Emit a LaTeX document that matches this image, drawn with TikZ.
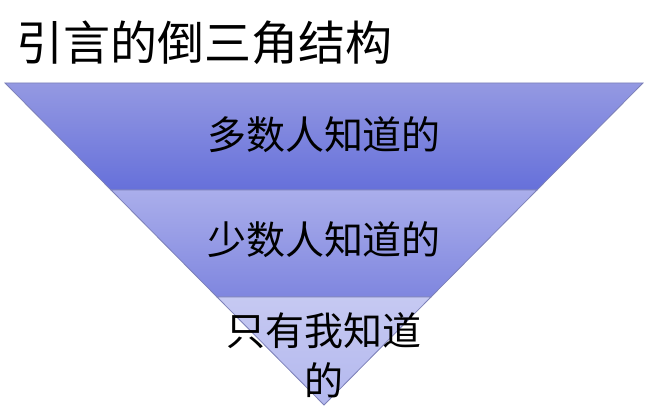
\documentclass[tikz,border=0pt]{standalone}
\usepackage{fontspec}
\newfontfamily\cjk{Noto Sans CJK SC}
\definecolor{bandAtop}{HTML}{9499E2}
\definecolor{bandAbot}{HTML}{6670DA}
\definecolor{bandBtop}{HTML}{AAAEEB}
\definecolor{bandBbot}{HTML}{7F86DF}
\definecolor{bandCtop}{HTML}{C6C9F2}
\definecolor{bandCbot}{HTML}{B3B8EE}
\definecolor{edgecol}{HTML}{7C80B8}
\tikzset{
  band/.style={draw=edgecol, line width=0.8pt},
  bandtext/.style={font=\cjk\fontsize{39}{50}\selectfont, text=black, inner sep=0pt, align=center},
  titletext/.style={font=\cjk\fontsize{47}{50}\selectfont, text=black, inner sep=0pt, anchor=west}
}
\begin{document}
\begin{tikzpicture}[x=1pt,y=-1pt]
\useasboundingbox (0,0) rectangle (657,411);
\fill[white] (0,0) rectangle (657,411);
\coordinate (A) at (5,83);
\coordinate (B) at (643,83);
\coordinate (C) at (111,190);
\coordinate (D) at (537,190);
\coordinate (E) at (217,297);
\coordinate (F) at (431,297);
\coordinate (G) at (324,405);
\shadedraw[band, top color=bandAtop, bottom color=bandAbot] (A) -- (B) -- (D) -- (C) -- cycle;
\shadedraw[band, top color=bandBtop, bottom color=bandBbot] (C) -- (D) -- (F) -- (E) -- cycle;
\shadedraw[band, top color=bandCtop, bottom color=bandCbot] (E) -- (F) -- (G) -- cycle;
\node[titletext] (title) at (16,43) {引言的倒三角结构};
\node[bandtext] (t1) at (324,135) {多数人知道的};
\node[bandtext] (t2) at (324,240) {少数人知道的};
\node[bandtext] (t3) at (324,355) {只有我知道\\的};
\end{tikzpicture}
\end{document}
